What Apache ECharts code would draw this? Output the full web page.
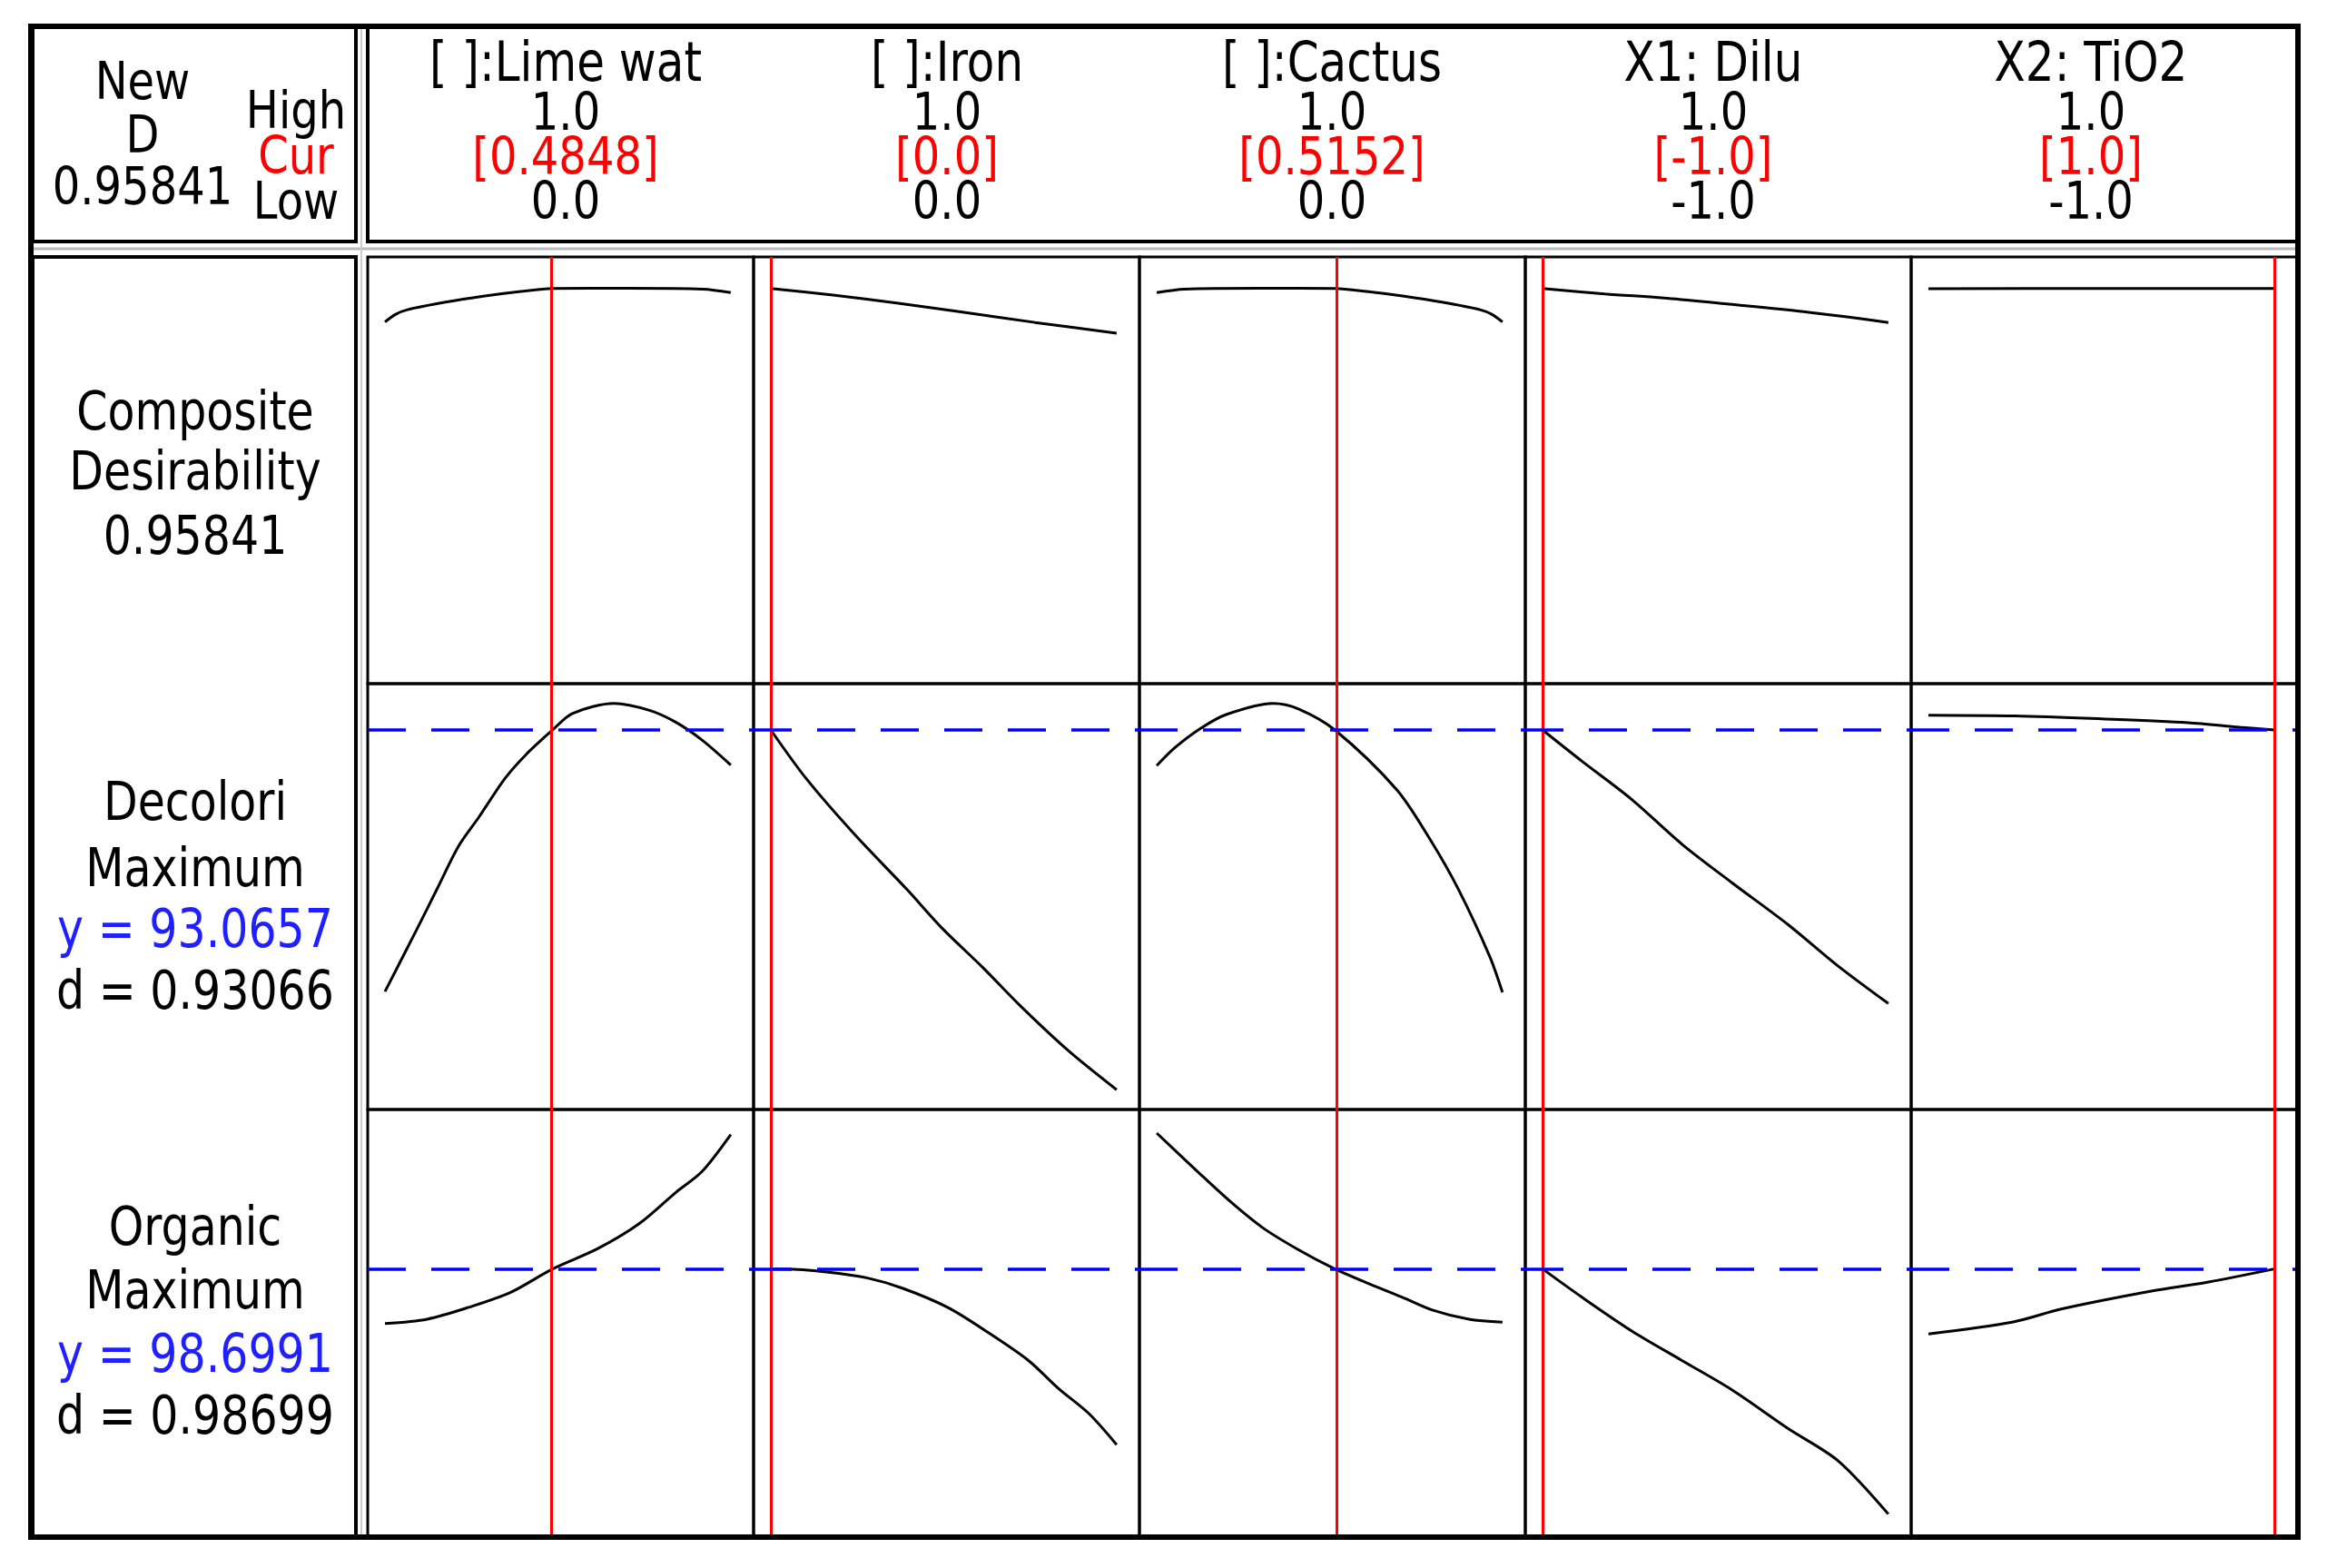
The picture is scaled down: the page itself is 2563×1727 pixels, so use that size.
<!DOCTYPE html>
<html>
<head>
<meta charset="utf-8">
<title>Response optimizer</title>
<script src="https://cdn.jsdelivr.net/npm/echarts@6.0.0/dist/echarts.min.js"></script>
<style>
html, body { margin: 0; padding: 0; background: #fff; }
#chart { width: 2563px; height: 1727px; }
</style>
</head>
<body>
<div id="chart"></div>
<script>
// factor header data
const factorNames = ['[ ]:Lime wat', '[ ]:Iron', '[ ]:Cactus', 'X1: Dilu', 'X2: TiO2']
const factorHigh = ['1.0', '1.0', '1.0', '1.0', '1.0']
const factorLow = ['0.0', '0.0', '0.0', '-1.0', '-1.0']
const factorCur = [0.4848, 0.0, 0.5152, -1.0, 1.0]
const factorCurText = ['[0.4848]', '[0.0]', '[0.5152]', '[-1.0]', '[1.0]']
const factorMin = [0, 0, 0, -1, -1]
const factorMax = [1, 1, 1, 1, 1]

// responses (rows)
const compositeD = 0.95841
const decoloriY = 93.0657
const decoloriD = 0.93066
const organicY = 98.6991
const organicD = 0.98699

// composite desirability traces [x, D]
const compLime = [[0, 0.874], [0.03, 0.893], [0.065, 0.905], [0.175, 0.924], [0.284, 0.939], [0.393, 0.951], [0.4848, 0.9584], [0.7, 0.959], [0.92, 0.957], [1, 0.948]]
const compIron = [[0, 0.9584], [0.18, 0.942], [0.364, 0.922], [0.545, 0.9], [0.764, 0.873], [1, 0.846]]
const compCactus = [[0, 0.948], [0.08, 0.957], [0.3, 0.959], [0.5152, 0.9584], [0.607, 0.951], [0.716, 0.939], [0.825, 0.924], [0.935, 0.905], [0.97, 0.893], [1, 0.874]]
const compDilu = [[-1, 0.9584], [-0.64, 0.945], [-0.28, 0.934], [0.08, 0.919], [0.51, 0.9], [1, 0.873]]
const compTiO2 = [[-1, 0.958], [0, 0.9584], [1, 0.9584]]

// Decolori traces [x, y]
const decLime = [[0, 75.44], [0.092, 79.63], [0.152, 82.42], [0.212, 85.21], [0.272, 87.21], [0.347, 89.8], [0.407, 91.39], [0.4848, 93.07], [0.542, 94.18], [0.662, 94.86], [0.767, 94.38], [0.842, 93.58], [0.917, 92.39], [1, 90.71]]
const decIron = [[0, 93.07], [0.102, 89.8], [0.241, 86.06], [0.394, 82.31], [0.496, 79.69], [0.613, 77.06], [0.723, 74.44], [0.861, 71.44], [1, 68.82]]
const decCactus = [[0, 90.67], [0.052, 91.87], [0.127, 93.18], [0.201, 94.11], [0.336, 94.86], [0.41, 94.49], [0.5152, 93.07], [0.694, 89.05], [0.791, 85.68], [0.873, 82.31], [0.963, 77.81], [1, 75.38]]
const decDilu = [[-1, 93.07], [-0.774, 90.98], [-0.484, 88.38], [-0.194, 85.37], [0.097, 82.76], [0.419, 79.96], [0.71, 77.15], [1, 74.63]]
const decTiO2 = [[-1, 94.07], [-0.5, 94.02], [0, 93.82], [0.5, 93.56], [0.8, 93.25], [1, 93.07]]

// Organic traces [x, y]
const orgLime = [[0, 98.33], [0.122, 98.36], [0.242, 98.44], [0.362, 98.54], [0.4848, 98.7], [0.617, 98.84], [0.737, 99.01], [0.842, 99.22], [0.917, 99.36], [1, 99.61]]
const orgIron = [[0, 98.7], [0.044, 98.7], [0.161, 98.68], [0.277, 98.64], [0.38, 98.57], [0.511, 98.44], [0.628, 98.27], [0.745, 98.08], [0.832, 97.89], [0.92, 97.72], [1, 97.51]]
const orgCactus = [[0, 99.62], [0.127, 99.34], [0.216, 99.15], [0.306, 98.98], [0.41, 98.83], [0.5152, 98.7], [0.604, 98.61], [0.709, 98.51], [0.799, 98.42], [0.903, 98.36], [1, 98.34]]
const orgDilu = [[-1, 98.7], [-0.774, 98.51], [-0.484, 98.28], [-0.194, 98.08], [0.097, 97.88], [0.419, 97.62], [0.71, 97.4], [1, 97.04]]
const orgTiO2 = [[-1, 98.26], [-0.516, 98.34], [-0.226, 98.43], [0.29, 98.55], [0.613, 98.61], [1, 98.7]]

const traces = [
    [compLime, compIron, compCactus, compDilu, compTiO2],
    [decLime, decIron, decCactus, decDilu, decTiO2],
    [orgLime, orgIron, orgCactus, orgDilu, orgTiO2]
]
const targets = [null, decoloriY, organicY]

// layout (px)
const colEdges = [405, 830, 1255, 1680, 2105, 2530]
const rowEdges = [283, 753, 1222, 1692]
const rowMin = [-0.037, 67.49, 96.89]
const rowMax = [1.038, 96.19, 99.78]
const headCenters = [623, 1043, 1467, 1887, 2303]

const chartInstance = echarts.init(document.getElementById('chart'))

const grids = [], xAxes = [], yAxes = [], series = []
for (let r = 0; r < 3; r++) {
    for (let c = 0; c < 5; c++) {
        const i = r * 5 + c
        const span = factorMax[c] - factorMin[c]
        grids.push({
            left: colEdges[c], top: rowEdges[r],
            width: colEdges[c + 1] - colEdges[c],
            height: rowEdges[r + 1] - rowEdges[r],
            show: true, borderColor: '#000', borderWidth: 3,
            backgroundColor: 'transparent', containLabel: false, outerBoundsMode: 'none'
        })
        // curve spans the panel with a small pad at each side
        xAxes.push({
            gridIndex: i, type: 'value', show: false,
            min: factorMin[c] - span * 0.05, max: factorMax[c] + span * 0.066
        })
        yAxes.push({
            gridIndex: i, type: 'value', show: false, scale: true,
            min: rowMin[r], max: rowMax[r]
        })
        const marks = [{ xAxis: factorCur[c], lineStyle: { color: '#ff0000', width: 3, type: 'solid' } }]
        if (targets[r] !== null) {
            marks.push({ yAxis: targets[r], lineStyle: { color: '#0000ff', width: 3.5, type: [42, 28] } })
        }
        series.push({
            type: 'line',
            xAxisIndex: i, yAxisIndex: i,
            data: traces[r][c],
            showSymbol: false, symbol: 'none',
            smooth: 0.3,
            lineStyle: { color: '#000', width: 3 },
            silent: true,
            z: 3,
            markLine: {
                silent: true, symbol: ['none', 'none'],
                label: { show: false },
                emphasis: { disabled: true },
                data: marks
            }
        })
    }
}

function txt (str, x, y, size, color) {
    return {
        type: 'text', x: x, y: y + 6, scaleY: 1.2, z: 30,
        style: {
            text: str, fill: color || '#000',
            font: size + 'px "DejaVu Sans"',
            textAlign: 'center', textVerticalAlign: 'middle',
            align: 'center', verticalAlign: 'middle'
        }
    }
}

const graphic = [
    // header boxes and label column
    { type: 'rect', z: 20, shape: { x: 36, y: 30, width: 356, height: 236 }, style: { fill: 'none', stroke: '#000', lineWidth: 4 } },
    { type: 'rect', z: 20, shape: { x: 405, y: 30, width: 2125, height: 236 }, style: { fill: 'none', stroke: '#000', lineWidth: 4 } },
    { type: 'rect', z: 20, shape: { x: 36, y: 283, width: 356, height: 1409 }, style: { fill: 'none', stroke: '#000', lineWidth: 4 } },
    { type: 'line', z: 20, shape: { x1: 36, y1: 274, x2: 2530, y2: 274 }, style: { stroke: '#bbb', lineWidth: 3 } },
    { type: 'line', z: 20, shape: { x1: 398, y1: 30, x2: 398, y2: 1692 }, style: { stroke: '#ccc', lineWidth: 2 } },
    // outer thick frame
    { type: 'rect', z: 21, shape: { x: 34, y: 29, width: 2497, height: 1664 }, style: { fill: 'none', stroke: '#000', lineWidth: 6 } },

    txt('New', 157, 88, 48), txt('D', 157, 147, 48), txt(String(compositeD), 157, 204, 48),
    txt('High', 326, 120, 48), txt('Cur', 326, 170, 48, '#ff0000'), txt('Low', 326, 220, 48),

    txt('Composite', 215, 452, 49), txt('Desirability', 215, 518, 49), txt(String(compositeD), 215, 589, 49),
    txt('Decolori', 215, 882, 49), txt('Maximum', 215, 955, 49),
    txt('y = ' + decoloriY, 215, 1022, 49, '#1f1fff'), txt('d = ' + decoloriD, 215, 1090, 49),
    txt('Organic', 215, 1350, 49), txt('Maximum', 215, 1420, 49),
    txt('y = ' + organicY, 215, 1490, 49, '#1f1fff'), txt('d = ' + organicD, 215, 1558, 49)
]
for (let c = 0; c < 5; c++) {
    graphic.push(txt(factorNames[c], headCenters[c], 67, 50))
    graphic.push(txt(factorHigh[c], headCenters[c], 122, 48))
    graphic.push(txt(factorCurText[c], headCenters[c], 171, 48, '#ff0000'))
    graphic.push(txt(factorLow[c], headCenters[c], 220, 48))
}

chartInstance.setOption({
    animation: false,
    backgroundColor: '#fff',
    grid: grids,
    xAxis: xAxes,
    yAxis: yAxes,
    series: series,
    graphic: graphic
})
</script>
</body>
</html>
